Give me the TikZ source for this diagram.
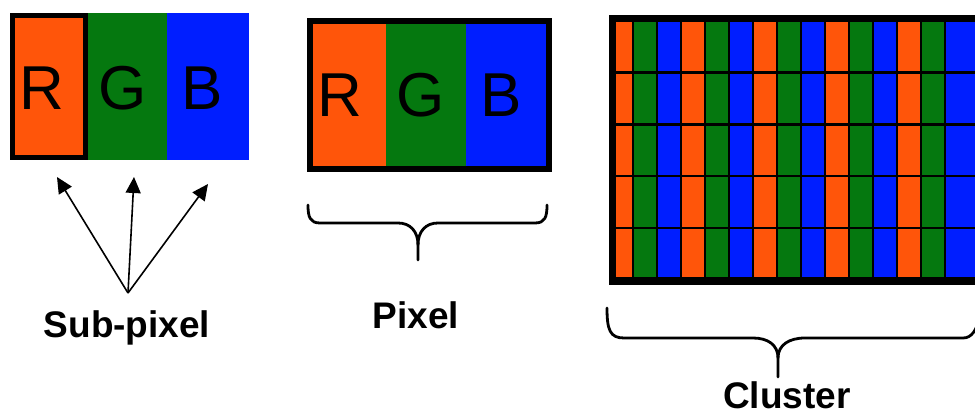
\documentclass[tikz,border=0pt]{standalone}
\usepackage{fontspec}
\setmainfont{Liberation Sans}
\usetikzlibrary{arrows.meta}
\definecolor{subR}{RGB}{255,85,10}
\definecolor{subG}{RGB}{5,120,15}
\definecolor{subB}{RGB}{0,30,255}
\begin{document}
\begin{tikzpicture}[x=1pt,y=-1pt,
  letter/.style={font=\fontsize{62}{62}\selectfont, anchor=base, inner sep=0pt},
  lbl/.style={font=\bfseries\fontsize{37}{37}\selectfont, anchor=base, inner sep=0pt},
  brace/.style={line width=2.8pt, line join=round, line cap=round},
  arr/.style={line width=1.6pt, -{Triangle[length=16pt,width=15pt]}}]
\useasboundingbox (0,0) rectangle (975,414);

% ---- Sub-pixel group ----
\fill[subR] (10,13) rectangle (88,160);
\fill[subG] (88,13) rectangle (167,160);
\fill[subB] (167,13) rectangle (249,160);
\draw[line width=5.5pt] (12.5,15.5) rectangle (85.5,157.5);
\node[letter] (sR) at (42,110) {R};
\node[letter] (sG) at (123,110) {G};
\node[letter] (sB) at (202,110) {B};

% arrows
\coordinate (abase) at (128,293);
\coordinate (t1) at (57,177);
\coordinate (t2) at (134,177);
\coordinate (t3) at (208,184);
\draw[arr] (abase) -- (t1);
\draw[arr] (abase) -- (t2);
\draw[arr] (abase) -- (t3);
\node[lbl] (subpx) at (127,337) {Sub-pixel};

% ---- Pixel group ----
\fill[subR] (310,21) rectangle (386,169);
\fill[subG] (386,21) rectangle (466,169);
\fill[subB] (466,21) rectangle (549,169);
\draw[line width=6pt] (310,21) rectangle (549,169);
\node[letter] (pR) at (340,117) {R};
\node[letter] (pG) at (421,117) {G};
\node[letter] (pB) at (501,117) {B};

\draw[brace] (308,205) .. controls (308,217) and (310,223) .. (320,223) -- (398,223)
  .. controls (410,223) and (418,231) .. (418,245) -- (418,260);
\draw[brace] (547,205) .. controls (547,217) and (545,223) .. (535,223) -- (438,223)
  .. controls (426,223) and (418,231) .. (418,245);
\node[lbl] (px) at (416,328) {Pixel};

% ---- Cluster ----
\fill[black] (609,15) rectangle (980,285);
\begin{scope}
  \clip (616,22) rectangle (980,277);
  \foreach \r in {0,...,4} {
    \foreach \k in {0,...,14} {
      \pgfmathtruncatemacro{\m}{mod(\k,3)}
      \pgfmathsetmacro{\xa}{610+24*\k}
      \pgfmathsetmacro{\xb}{\k==14 ? 990 : 632+24*\k}
      \pgfmathsetmacro{\ya}{22+51.8*\r}
      \pgfmathsetmacro{\yb}{71.5+51.8*\r}
      \ifcase\m
        \fill[subR] (\xa,\ya) rectangle (\xb,\yb);
      \or
        \fill[subG] (\xa,\ya) rectangle (\xb,\yb);
      \or
        \fill[subB] (\xa,\ya) rectangle (\xb,\yb);
      \fi
    }
  }
\end{scope}

\draw[brace] (607,308) .. controls (607,330) and (610,338) .. (624,338) -- (753,338)
  .. controls (768,338) and (778,345) .. (778,358) -- (778,377);
\draw[brace] (980,318) .. controls (976,330) and (972,338) .. (963,338) -- (805,338)
  .. controls (789,338) and (778,345) .. (778,358);
\node[lbl] (cl) at (787,408) {Cluster};
\end{tikzpicture}
\end{document}
